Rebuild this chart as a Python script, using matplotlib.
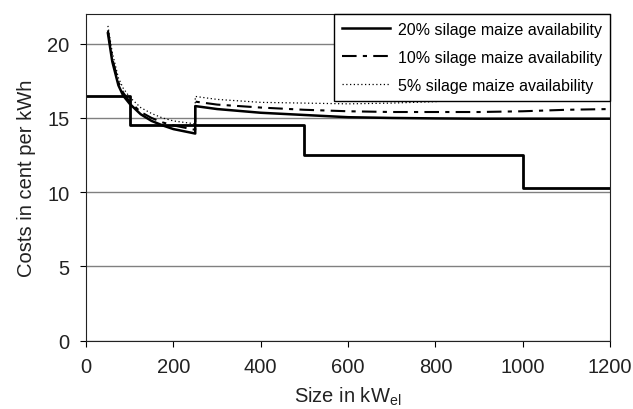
import matplotlib
matplotlib.use("Agg")
import matplotlib.pyplot as plt

plt.rcParams['font.family'] = ['Liberation Sans', 'DejaVu Sans']

# cost curves (cent/kWh), jump at 250 kW
sizes = [50, 60, 74, 85, 100, 125, 150, 175, 200, 225, 250,
         250, 300, 400, 500, 600, 700, 800, 900, 1000, 1100, 1200]

cost20 = [20.7, 18.8, 17.2, 16.5, 15.95, 15.25, 14.8, 14.5, 14.25, 14.1, 13.95,
          15.8, 15.6, 15.35, 15.2, 15.05, 15.0, 14.97, 14.95, 14.95, 14.95, 14.95]

cost10 = [20.9, 19.0, 17.4, 16.7, 16.1, 15.4, 15.0, 14.7, 14.5, 14.35, 14.2,
          16.1, 15.9, 15.7, 15.55, 15.45, 15.4, 15.4, 15.4, 15.45, 15.55, 15.6]

cost5 = [21.2, 19.4, 17.7, 17.0, 16.4, 15.7, 15.3, 15.0, 14.8, 14.7, 14.6,
         16.45, 16.25, 16.05, 16.0, 15.95, 16.0, 16.1, 16.3, 16.3, 16.3, 16.3]

# feed-in tariff steps
tariff_x = [0, 100, 100, 500, 500, 1000, 1000, 1200]
tariff_y = [16.5, 16.5, 14.5, 14.5, 12.5, 12.5, 10.3, 10.3]

fig = plt.figure(figsize=(6.33, 4.10), dpi=100)
ax = fig.add_axes([0.136, 0.1666, 0.8277, 0.7968])

ax.plot(sizes, cost20, color='black', lw=1.8, label='20% silage maize availability')
ax.plot(sizes, cost10, color='black', lw=1.5, dashes=(7, 3, 2, 3), label='10% silage maize availability')
ax.plot(sizes, cost5, color='black', lw=0.9, ls=(0, (1, 2)), label='5% silage maize availability')
ax.plot(tariff_x, tariff_y, color='black', lw=2)

ax.set_xlim(0, 1200)
ax.set_ylim(0, 22)
ax.set_xticks(range(0, 1201, 200))
ax.set_yticks(range(0, 21, 5))
ax.yaxis.grid(True, color='#808080', lw=1)
ax.set_axisbelow(True)
ax.tick_params(labelsize=14.5, direction='out', length=4, color='black', pad=8, labelcolor='#222222')
for s in ax.spines.values():
    s.set_color('#222222')

ax.set_xlabel('Size in kW$_{\\mathregular{el}}$', fontsize=14.5, labelpad=6, color='#222222')
ax.set_ylabel('Costs in cent per kWh', fontsize=14.5, labelpad=8, color='#222222')

leg = ax.legend(loc='upper right', fontsize=11.5, frameon=True, fancybox=False,
                edgecolor='black', framealpha=1, borderaxespad=0, handlelength=3.0,
                handletextpad=0.5, borderpad=0.5, labelspacing=0.8)
leg.get_frame().set_linewidth(1)

fig.savefig('out.png', dpi=100)
